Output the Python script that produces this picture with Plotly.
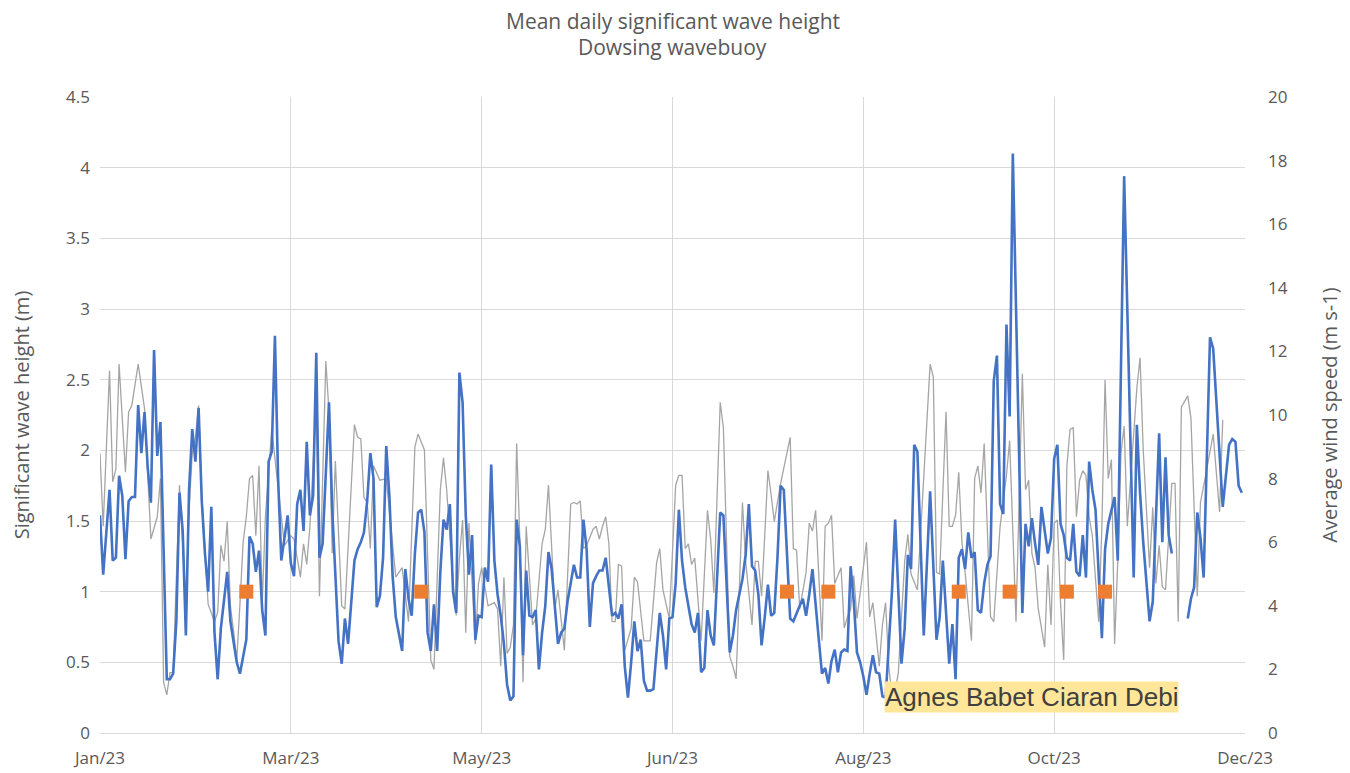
import pandas as pd
import plotly.graph_objects as go

START = pd.Timestamp('2023-01-01')

# mean daily significant wave height (m), day offset from 1 Jan 2023
wave_day = [0, 1, 3, 4, 5, 6, 7, 8, 9, 10, 11, 12, 13, 14, 15, 16, 17, 18, 19, 21, 22, 23, 24, 25, 26, 27, 28, 29,
            30, 31, 32, 33, 34, 35, 36, 37, 38, 39, 40, 41, 42, 43, 44, 45, 46, 47, 48, 49, 50, 51, 52, 53, 54, 55,
            56, 57, 59, 60, 61, 62, 63, 64, 65, 66, 67, 68, 69, 70, 71, 72, 73, 74, 75, 76, 77, 78, 80, 81, 82, 83,
            84, 85, 86, 87, 88, 89, 90, 91, 92, 93, 94, 95, 96, 97, 98, 99, 100, 101, 102, 103, 104, 105, 106, 107,
            108, 109, 110, 111, 112, 113, 114, 115, 116, 117, 118, 119, 120, 121, 122, 123, 124, 125, 126, 127, 128,
            129, 130, 131, 132, 133, 134, 135, 136, 137, 138, 139, 140, 141, 142, 143, 144, 145, 146, 147, 149, 150,
            151, 152, 153, 154, 155, 156, 157, 158, 159, 161, 162, 163, 164, 165, 166, 167, 168, 169, 170, 171, 172,
            173, 174, 176, 177, 178, 179, 180, 181, 182, 183, 184, 185, 186, 187, 188, 189, 190, 191, 192, 193, 195,
            196, 198, 199, 200, 201, 202, 203, 204, 205, 206, 207, 208, 209, 210, 211, 212, 213, 214, 215, 217, 218,
            219, 220, 221, 222, 223, 224, 226, 227, 228, 229, 230, 231, 232, 233, 234, 235, 236, 237, 238, 239, 240,
            241, 242, 243, 244, 245, 246, 247, 249, 250, 252, 253, 254, 255, 256, 257, 259, 261, 263, 264, 265, 267,
            268, 269, 270, 271, 272, 273, 274, 275, 276, 277, 278, 279, 280, 281, 282, 283, 284, 285, 286, 287, 290,
            291, 292, 293, 294, 295, 296, 297, 298, 299, 300, 301, 302, 303, 304, 305, 306, 307, 308, 309, 310, 311,
            312, 313, 315, 316, 317, 319, 320, 322, 325, 326, 327, 328, 330, 331, 333, 334, 335, 336, 337, 339, 342,
            343, 344, 345, 346, 347, 349, 350, 353, 355, 356, 357, 358, 359]
wave_m = [1.54, 1.12, 1.72, 1.22, 1.24, 1.82, 1.68, 1.23, 1.64, 1.67, 1.67, 2.32, 1.98, 2.27, 1.88, 1.63, 2.71, 1.96,
          2.2, 0.38, 0.38, 0.42, 0.79, 1.7, 1.43, 0.69, 1.72, 2.15, 1.92, 2.3, 1.64, 1.27, 1.0, 1.6, 0.71, 0.38, 0.74,
          0.93, 1.14, 0.79, 0.63, 0.5, 0.42, 0.53, 0.66, 1.39, 1.34, 1.14, 1.29, 0.87, 0.69, 1.92, 1.99, 2.81, 1.8,
          1.22, 1.54, 1.2, 1.11, 1.62, 1.72, 1.43, 2.06, 1.54, 1.68, 2.69, 1.24, 1.34, 1.83, 2.34, 1.59, 1.14, 0.65,
          0.49, 0.81, 0.63, 1.22, 1.3, 1.35, 1.42, 1.64, 1.98, 1.8, 0.89, 0.97, 1.24, 2.03, 1.67, 1.11, 0.82, 0.71,
          0.58, 1.16, 0.95, 0.83, 1.27, 1.56, 1.58, 1.42, 0.71, 0.58, 0.91, 0.58, 1.14, 1.51, 1.44, 1.62, 1.0, 0.85,
          2.55, 2.34, 1.54, 1.12, 1.4, 0.66, 0.83, 0.82, 1.17, 1.07, 1.9, 1.22, 0.98, 0.83, 0.63, 0.34, 0.23, 0.26,
          1.51, 1.32, 0.55, 1.15, 0.83, 0.82, 0.87, 0.45, 0.71, 0.9, 1.28, 1.16, 0.87, 0.63, 0.71, 0.74, 0.93, 1.19,
          1.1, 1.1, 1.51, 1.3, 0.75, 1.06, 1.11, 1.15, 1.15, 1.24, 0.83, 0.85, 0.81, 0.91, 0.47, 0.25, 0.5, 0.79,
          0.58, 0.66, 0.37, 0.3, 0.3, 0.31, 0.85, 0.69, 0.45, 0.81, 0.82, 1.06, 1.58, 1.22, 1.03, 0.91, 0.77, 0.71,
          0.85, 0.43, 0.46, 0.87, 0.69, 0.62, 1.56, 1.54, 0.57, 0.69, 0.87, 0.98, 1.09, 1.26, 1.62, 1.18, 1.15, 0.98,
          0.62, 0.82, 1.05, 0.83, 0.85, 1.24, 1.75, 1.72, 0.81, 0.79, 0.85, 0.9, 0.95, 0.83, 0.98, 1.16, 0.66, 0.42,
          0.46, 0.35, 0.51, 0.59, 0.43, 0.57, 0.59, 0.58, 1.18, 0.93, 0.57, 0.5, 0.4, 0.27, 0.42, 0.55, 0.43, 0.42,
          0.26, 0.25, 1.0, 1.51, 0.49, 0.74, 1.26, 1.16, 2.04, 1.99, 0.69, 1.71, 0.66, 0.82, 1.22, 0.49, 0.77, 0.38,
          1.24, 1.3, 1.16, 1.42, 1.24, 1.28, 0.87, 0.85, 1.06, 1.19, 1.25, 2.49, 2.67, 1.62, 1.55, 2.89, 2.24, 4.1,
          0.85, 1.48, 1.32, 1.52, 1.34, 1.19, 1.6, 1.43, 1.27, 1.38, 1.94, 2.04, 1.48, 1.4, 1.24, 1.22, 1.48, 1.14,
          1.11, 1.4, 1.1, 1.92, 1.72, 1.58, 0.67, 1.3, 1.48, 1.67, 1.22, 3.94, 1.1, 2.18, 1.7, 1.35, 0.79, 0.93, 2.12,
          1.35, 1.95, 1.4, 1.27, None, 0.81, 0.95, 1.03, 1.56, 1.38, 1.1, 2.8, 2.72, 1.6, 2.04, 2.08, 2.06, 1.75, 1.7]

# average wind speed (m s-1)
wind_day = [0, 1, 3, 4, 5, 6, 8, 9, 10, 12, 14, 16, 18, 19, 20, 21, 22, 23, 25, 26, 27, 28, 29, 30, 31, 32, 34, 36,
            37, 38, 39, 40, 41, 42, 43, 44, 45, 46, 47, 48, 49, 50, 51, 52, 54, 58, 60, 61, 63, 64, 65, 66, 68, 69,
            71, 72, 73, 74, 76, 77, 80, 81, 82, 83, 84, 85, 86, 88, 90, 93, 94, 95, 97, 99, 100, 102, 104, 105, 107,
            108, 109, 111, 112, 113, 114, 115, 116, 118, 119, 120, 122, 124, 125, 126, 127, 128, 129, 130, 131, 132,
            133, 134, 136, 137, 139, 140, 141, 143, 144, 146, 148, 149, 150, 151, 152, 153, 155, 156, 157, 158, 159,
            160, 161, 162, 163, 164, 165, 167, 168, 169, 171, 172, 173, 175, 176, 177, 178, 179, 181, 182, 183, 184,
            185, 186, 187, 188, 189, 191, 192, 193, 195, 196, 198, 199, 200, 202, 203, 205, 206, 207, 208, 209, 210,
            211, 212, 214, 217, 218, 219, 220, 221, 222, 223, 224, 225, 226, 227, 228, 229, 230, 231, 232, 233, 234,
            235, 236, 237, 238, 241, 242, 243, 245, 246, 247, 248, 249, 250, 251, 252, 253, 254, 255, 257, 261, 262,
            263, 264, 266, 267, 268, 269, 270, 271, 272, 274, 275, 276, 277, 278, 280, 281, 283, 285, 286, 288, 290,
            291, 292, 293, 294, 295, 296, 297, 298, 299, 300, 301, 302, 303, 304, 305, 306, 307, 308, 309, 310, 311,
            312, 314, 315, 316, 317, 318, 319, 320, 321, 322, 323, 325, 326, 327, 328, 330, 331, 332, 333, 334, 335,
            337, 338, 339, 340, 342, 343, 345, 346, 348, 350, 352, 353]
wind_ms = [8.8, 6.5, 11.4, 7.9, 8.3, 11.6, 8.2, 10.1, 10.3, 11.6, 10.2, 6.1, 6.8, 8.0, 1.6, 1.2, 1.9, 1.9, 7.8, 5.8,
           4.1, 7.0, 8.8, 9.3, 10.3, 7.5, 4.05, 3.5, 3.8, 5.9, 5.4, 6.65, 4.0, 3.2, 2.3, 4.05, 6.0, 6.8, 8.0, 8.1,
           6.2, 8.4, 4.05, 6.8, 9.55, 5.9, 6.2, 6.1, 4.9, 5.95, 5.3, 6.5, 10.4, 4.3, 11.7, 10.1, 5.65, 8.55, 4.0,
           3.9, 9.7, 9.3, 9.25, 7.4, 7.25, 5.8, 8.4, 7.95, 8.0, 4.9, 5.05, 5.2, 3.5, 9.0, 9.4, 8.9, 2.3, 2.0, 7.65,
           8.65, 7.65, 4.7, 3.7, 5.5, 6.7, 3.15, 6.6, 2.8, 4.7, 5.2, 4.0, 4.1, 3.9, 2.1, 4.9, 2.5, 2.7, 3.4, 9.1,
           6.1, 1.6, 6.5, 3.4, 3.6, 5.95, 6.4, 7.8, 3.9, 4.5, 2.6, 7.2, 7.25, 7.2, 7.3, 5.8, 5.9, 6.4, 6.5, 6.1, 6.5,
           6.8, 5.95, 3.5, 3.5, 5.3, 5.25, 2.6, 3.3, 4.9, 4.75, 2.9, 2.9, 2.9, 5.35, 5.8, 4.5, 4.0, 3.6, 7.8, 8.1,
           8.1, 5.8, 5.95, 5.3, 5.5, 4.2, 2.9, 7.0, 6.1, 4.4, 10.4, 9.6, 2.4, 2.1, 1.7, 7.25, 5.4, 3.4, 5.4, 5.4,
           4.3, 6.2, 8.25, 7.5, 6.65, 7.85, 9.3, 5.8, 5.75, 3.9, 4.5, 5.05, 6.6, 6.35, 7.0, 4.7, 2.9, 6.5, 6.6, 6.85,
           4.7, 4.95, 5.2, 3.3, 3.65, 3.9, 4.95, 3.6, 6.0, 3.65, 4.1, 2.1, 3.4, 4.1, 2.1, 1.15, 1.3, 1.9, 3.5, 5.4,
           6.25, 5.0, 4.5, 11.6, 11.2, 5.05, 5.0, 10.1, 6.5, 6.5, 6.85, 8.2, 6.0, 5.05, 2.9, 8.0, 8.4, 7.55, 9.1,
           3.65, 3.5, 6.5, 8.1, 9.2, 3.5, 11.3, 7.65, 7.95, 5.65, 5.2, 3.9, 3.3, 2.7, 5.3, 3.4, 6.6, 6.7, 4.1, 2.3,
           8.4, 9.55, 9.6, 6.8, 7.95, 8.25, 8.1, 6.8, 6.2, 3.5, 6.5, 11.1, 8.0, 8.6, 2.8, 5.4, 8.8, 9.65, 6.5, 9.2,
           10.85, 11.8, 8.9, 5.2, 7.1, 4.7, 5.9, 4.6, 4.5, 7.85, 7.85, 3.5, 10.25, 10.6, 9.9, 4.3, 7.25, 8.3, 9.4,
           6.95, 9.85]

# named storms (orange markers)
storm_day = [46, 101, 216, 229, 270, 286, 304, 316]
storm_level = [1.0, 1.0, 1.0, 1.0, 1.0, 1.0, 1.0, 1.0]

x_tick_dates = ['2023-01-01', '2023-03-02', '2023-05-01', '2023-06-30', '2023-08-29', '2023-10-28', '2023-12-27']
x_tick_labels = ['Jan/23', 'Mar/23', 'May/23', 'Jun/23', 'Aug/23', 'Oct/23', 'Dec/23']


def to_dates(days):
    return [START + pd.Timedelta(days=d) for d in days]


TEXT = '#595959'
GRID = '#D9D9D9'
FONT = 'Open Sans'

fig = go.Figure()

# wind on the primary (bottom) layer so the wave line sits above it
fig.add_trace(go.Scatter(x=to_dates(wind_day), y=wind_ms, mode='lines', name='Wind speed',
                         line=dict(color='#A5A5A5', width=1.3), yaxis='y'))
fig.add_trace(go.Scatter(x=to_dates(wave_day), y=wave_m, mode='lines', name='Hs',
                         line=dict(color='#4472C4', width=2.6), yaxis='y2', connectgaps=False))
fig.add_trace(go.Scatter(x=to_dates(storm_day), y=storm_level, mode='markers', name='Storms',
                         marker=dict(symbol='square', size=14, color='#ED7D31'), yaxis='y2'))

fig.update_layout(
    width=1350, height=773,
    margin=dict(l=89, r=113, t=89, b=48),
    plot_bgcolor='white', paper_bgcolor='white',
    showlegend=False,
    font=dict(family=FONT, color=TEXT, size=17),
    xaxis=dict(
        type='date', range=[x_tick_dates[0], x_tick_dates[-1]],
        tickvals=x_tick_dates, ticktext=x_tick_labels,
        showgrid=True, gridcolor=GRID, gridwidth=1,
        showline=True, linecolor=GRID, linewidth=1,
        ticks='', ticklabelstandoff=10, tickfont=dict(size=17, color=TEXT),
    ),
    yaxis=dict(
        side='right', range=[0, 20], dtick=2, showgrid=False, zeroline=False,
        ticks='', ticklabelstandoff=22, tickfont=dict(size=17, color=TEXT),
        title=dict(text='Average wind speed (m s-1)', font=dict(size=20, color=TEXT), standoff=36),
    ),
    yaxis2=dict(
        side='left', overlaying='y', range=[0, 4.5], dtick=0.5,
        showgrid=True, gridcolor=GRID, gridwidth=1, zeroline=False,
        ticks='', ticklabelstandoff=9, tickfont=dict(size=17, color=TEXT),
        title=dict(text='Significant wave height (m)', font=dict(size=20, color=TEXT), standoff=32),
    ),
)

fig.add_annotation(text='Mean daily significant wave height', xref='paper', yref='paper',
                   x=0.5, y=1.119, yanchor='middle', showarrow=False, font=dict(size=21, color=TEXT))
fig.add_annotation(text='Dowsing wavebuoy', xref='paper', yref='paper',
                   x=0.5, y=1.078, yanchor='middle', showarrow=False, font=dict(size=21, color=TEXT))

fig.add_annotation(text='Agnes Babet Ciaran Debi', x=START + pd.Timedelta(days=293), y=0.255,
                   xref='x', yref='y2', showarrow=False, bgcolor='#FFE699', borderpad=0,
                   font=dict(family='Liberation Sans, Arial', size=26, color='#404040'))

fig.write_html("out.html")
